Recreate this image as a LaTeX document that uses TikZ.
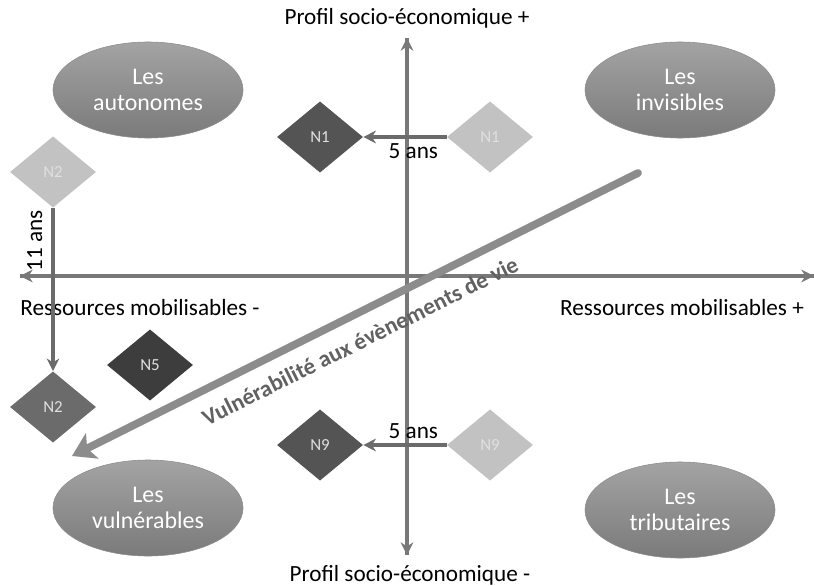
\documentclass[tikz,border=0pt]{standalone}
\usepackage{fontspec}
\setmainfont{Carlito}
\usetikzlibrary{arrows.meta,shapes.geometric}
\definecolor{axe}{gray}{0.47}
\definecolor{fonce}{gray}{0.33}
\definecolor{tresfonce}{gray}{0.24}
\definecolor{moyen}{gray}{0.42}
\definecolor{clair}{gray}{0.76}
\tikzset{
  groupe/.style={ellipse, minimum width=4.75cm, minimum height=2.4cm, inner sep=0pt,
    top color=black!36, bottom color=black!52, draw=black!45, text=white,
    align=center, font=\fontsize{17}{19}\selectfont},
  losange/.style={diamond, minimum width=2.15cm, minimum height=1.78cm, inner sep=0pt,
    text=white!88!black, font=\fontsize{12}{14}\selectfont},
  legende/.style={font=\fontsize{16.5}{19}\selectfont},
  fleche/.style={-{Stealth[length=9pt,width=9pt]}, line width=2.4pt, draw=axe},
}
\begin{document}
\begin{tikzpicture}[x=0.025cm, y=-0.025cm]
\useasboundingbox (0,0) rectangle (814,585);
% axes
\coordinate (haut) at (407,38);
\coordinate (bas) at (407,555);
\coordinate (gauche) at (20,276);
\coordinate (droite) at (814,276);
\draw[fleche] (bas) -- (haut);
\draw[fleche] (haut) -- (bas);
\draw[fleche] (droite) -- (gauche);
\draw[fleche] (gauche) -- (droite);
\node[legende] (titrehaut) at (407,18) {Profil socio-économique +};
\node[legende] (titrebas) at (410,575) {Profil socio-économique -};
\node[legende] (titregauche) at (140,308) {Ressources mobilisables -};
\node[legende] (titredroite) at (682,308) {Ressources mobilisables +};
% groupes
\node[groupe] (autonomes) at (148,90) {Les\\autonomes};
\node[groupe] (invisibles) at (680,90) {Les\\invisibles};
\node[groupe] (vulnerables) at (148,508) {Les\\vulnérables};
\node[groupe] (tributaires) at (680,510) {Les\\tributaires};
% vulnerabilite
\coordinate (depart) at (638,173);
\coordinate (arrivee) at (72,456);
\draw[-{Stealth[length=16pt,width=20pt,inset=4pt]}, line width=5.5pt, line cap=round, draw=black!45] (depart) -- (arrivee);
\node[text=black!62, rotate=26.5, font=\bfseries\fontsize{16.5}{19}\selectfont] (vie) at (360,341) {Vulnérabilité aux évènements de vie};
% N1
\node[losange, fill=fonce] (n1a) at (320,137) {N1};
\node[losange, fill=clair] (n1b) at (490,137) {N1};
\draw[fleche, draw=moyen] (n1b) -- (n1a) node[pos=0.4, below, legende, text=black] {5 ans};
% N2
\node[losange, fill=clair] (n2a) at (53,172) {N2};
\node[losange, fill=moyen] (n2b) at (53,407) {N2};
\draw[fleche, draw=moyen] (n2a) -- (n2b) node[pos=0.2, left=3pt, rotate=90, anchor=south, legende, text=black] {11 ans};
% N5
\node[losange, fill=tresfonce] (n5) at (150,365) {N5};
% N9
\node[losange, fill=fonce] (n9a) at (320,445) {N9};
\node[losange, fill=clair] (n9b) at (490,445) {N9};
\draw[fleche, draw=moyen] (n9b) -- (n9a) node[pos=0.4, above, legende, text=black] {5 ans};
\end{tikzpicture}
\end{document}
